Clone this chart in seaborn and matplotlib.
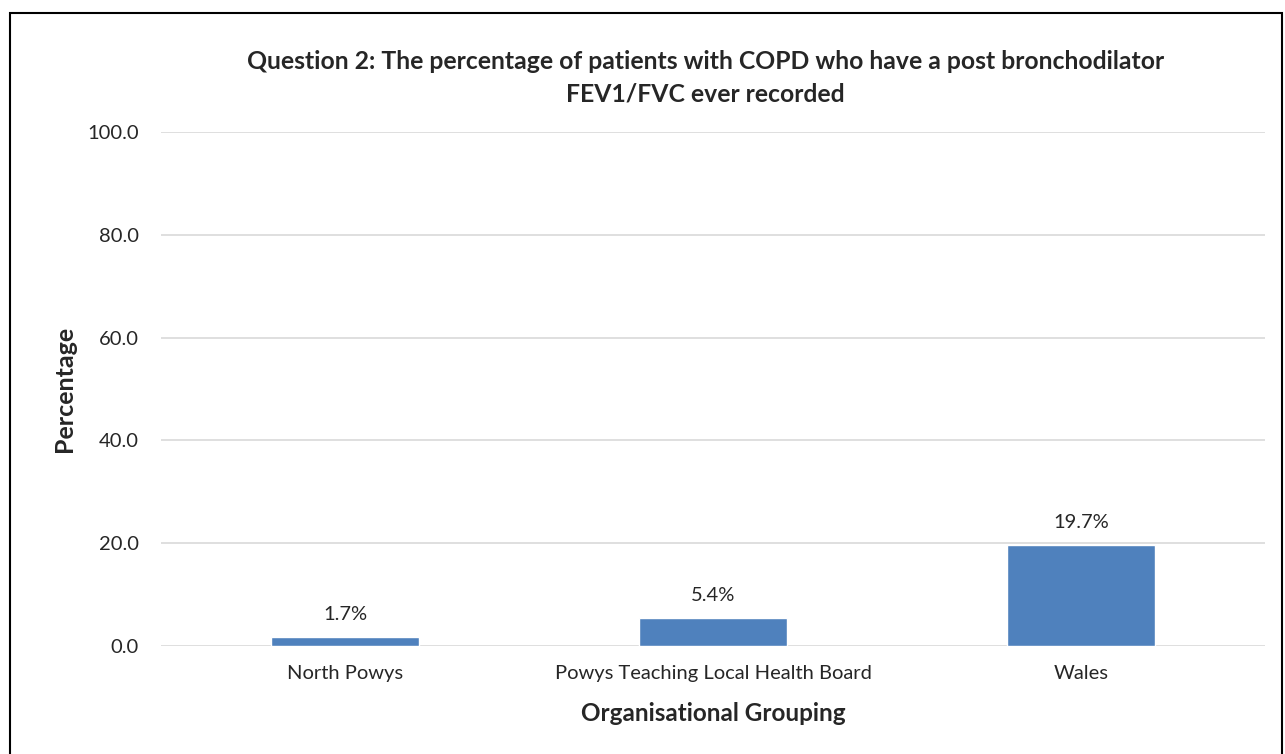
import matplotlib
matplotlib.use("Agg")
import matplotlib.pyplot as plt
import seaborn as sns
import pandas as pd
from matplotlib.patches import Rectangle

# Data
groups = ["North Powys", "Powys Teaching Local Health Board", "Wales"]
values = [1.7, 5.4, 19.7]
yticks = [0.0, 20.0, 40.0, 60.0, 80.0, 100.0]

df = pd.DataFrame({"group": groups, "pct": values})

sns.set_style("white")
plt.rcParams["font.family"] = ["Lato", "DejaVu Sans"]

fig = plt.figure(figsize=(12.85, 7.54), dpi=100)
ax = fig.add_axes([0.1253, 0.1432, 0.8591, 0.6817])

sns.barplot(data=df, x="group", y="pct", color="#4F81BD", width=0.4,
            saturation=1, ax=ax, zorder=3)

ax.set_ylim(0, 100)
ax.set_yticks(yticks)
ax.set_yticklabels([f"{t:.1f}" for t in yticks], fontsize=14.5)
ax.tick_params(axis="x", labelsize=14.5, length=0, pad=14)
ax.tick_params(axis="y", length=0, pad=16)
ax.grid(axis="y", color="#D9D9D9", linewidth=1.2, zorder=0)
for s in ax.spines.values():
    s.set_visible(False)

for i, v in enumerate(values):
    ax.annotate(f"{v}%", (i, v), xytext=(0, 10), textcoords="offset points",
                ha="center", va="bottom", fontsize=14.5)

ax.set_xlabel("Organisational Grouping", fontsize=17.5, fontweight="bold", labelpad=14)
ax.set_ylabel("Percentage", fontsize=18, fontweight="bold", labelpad=8)
fig.text(0.549, 0.897,
         "Question 2: The percentage of patients with COPD who have a post bronchodilator\nFEV1/FVC ever recorded",
         ha="center", va="center", fontsize=17.8, fontweight="bold", linespacing=1.5)

fig.add_artist(Rectangle((0.0078, -0.01), 0.99, 0.9928, transform=fig.transFigure,
                         fill=False, edgecolor="black", linewidth=1.5))

fig.savefig("out.png", dpi=100)
